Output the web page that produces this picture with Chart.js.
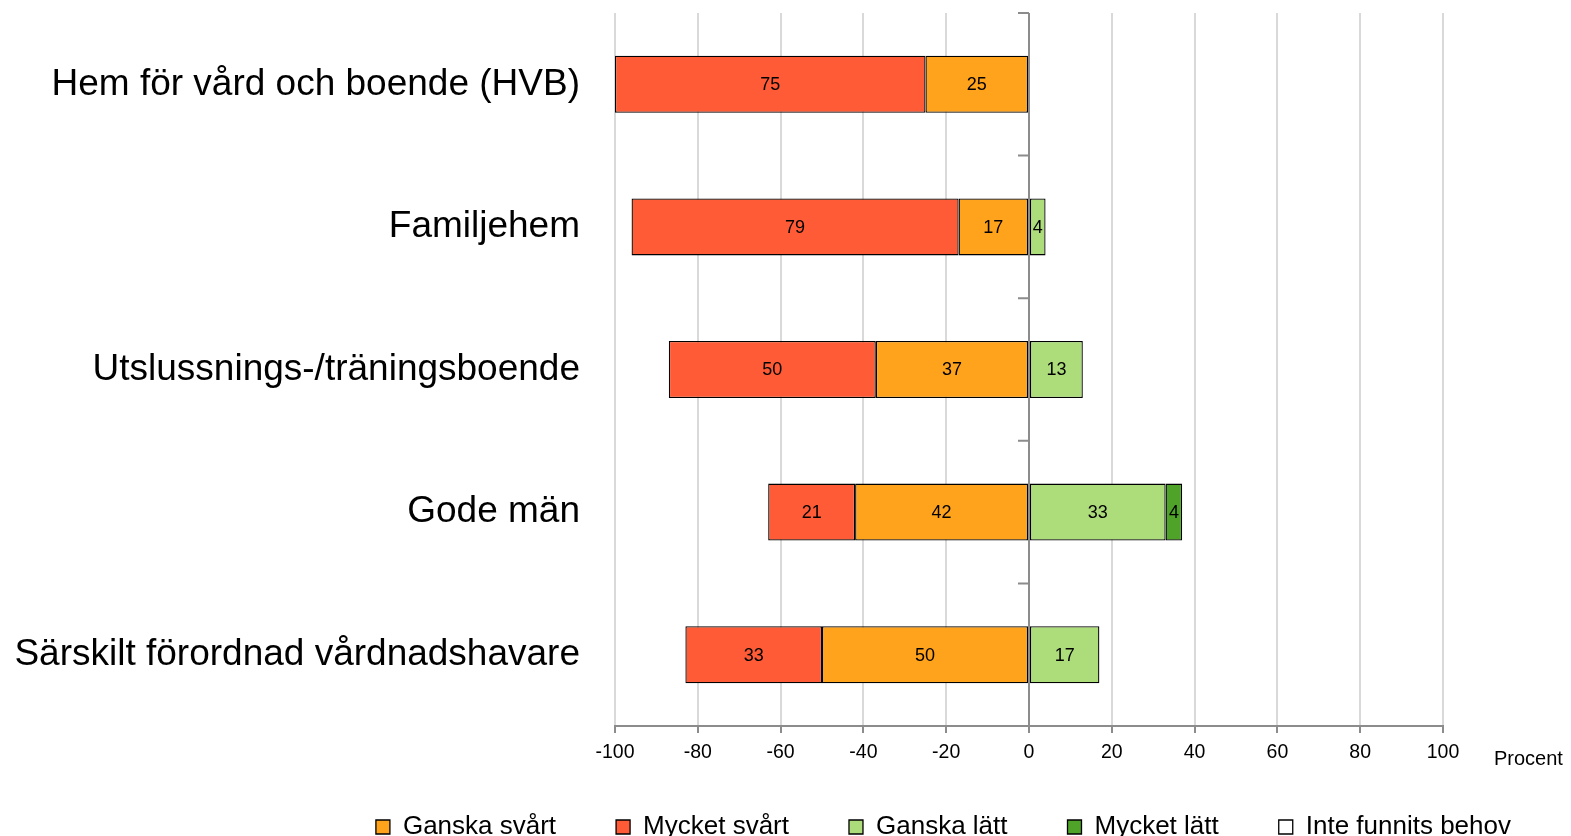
<!DOCTYPE html>
<html lang="sv">
<head>
<meta charset="utf-8">
<title>Svårighet att hitta placering</title>
<script src="https://cdn.jsdelivr.net/npm/chart.js@4.4.1/dist/chart.umd.min.js"></script>
<style>
  html, body { margin: 0; padding: 0; background: #fff; }
  #wrap { width: 1571px; height: 836px; }
</style>
</head>
<body>
<div id="wrap"><canvas id="chart" width="1571" height="836"></canvas></div>
<script>
// kategorier och värden (procent), svårt-serierna ritas åt vänster
const categories = [
  'Hem för vård och boende (HVB)',
  'Familjehem',
  'Utslussnings-/träningsboende',
  'Gode män',
  'Särskilt förordnad vårdnadshavare'
];
const ganskaSvart = [25, 17, 37, 42, 50];
const mycketSvart = [75, 79, 50, 21, 33];
const ganskaLatt = [0, 4, 13, 33, 17];
const mycketLatt = [0, 0, 0, 4, 0];
const inteBehov = [0, 0, 0, 0, 0];
const xTicks = [-100, -80, -60, -40, -20, 0, 20, 40, 60, 80, 100];

const FONT = '"Liberation Sans", Arial, sans-serif';

// noll ritas inte som stapel
const neg = arr => arr.map(v => v ? -v : null);
const pos = arr => arr.map(v => v ? v : null);

const series = [
  { label: 'Ganska svårt', data: neg(ganskaSvart), color: '#FFA21C' },
  { label: 'Mycket svårt', data: neg(mycketSvart), color: '#FF5B36' },
  { label: 'Ganska lätt', data: pos(ganskaLatt), color: '#ADDC7B' },
  { label: 'Mycket lätt', data: pos(mycketLatt), color: '#4FA329' },
  { label: 'Inte funnits behov', data: pos(inteBehov), color: '#FFFFFF' }
];

// nollaxel med streck, värden i staplarna och "Procent"
const extras = {
  id: 'extras',
  afterLayout(chart) {
    // legenden ligger en bit ner, över x-axelns nedre del
    chart.legend.top -= 22;
    chart.legend.bottom -= 22;
  },
  afterDatasetsDraw(chart) {
    const { ctx, chartArea, scales: { x, y } } = chart;
    const x0 = x.getPixelForValue(0);
    ctx.save();
    ctx.strokeStyle = '#8c8c8c';
    ctx.lineWidth = 2;
    ctx.beginPath();
    ctx.moveTo(x0, chartArea.top);
    ctx.lineTo(x0, chartArea.bottom);
    for (let i = 0; i <= categories.length; i++) {
      const py = y.getPixelForValue(i - 0.5);
      ctx.moveTo(x0 - 11, py);
      ctx.lineTo(x0, py);
    }
    ctx.stroke();

    ctx.fillStyle = '#000';
    ctx.font = '18px ' + FONT;
    ctx.textAlign = 'center';
    ctx.textBaseline = 'middle';
    chart.data.datasets.forEach((ds, di) => {
      chart.getDatasetMeta(di).data.forEach((bar, i) => {
        const v = ds.data[i];
        if (!v) return;
        const c = bar.getCenterPoint();
        ctx.fillText(Math.abs(v), c.x, c.y + 1);
      });
    });

    ctx.font = '20px ' + FONT;
    ctx.textAlign = 'left';
    ctx.textBaseline = 'alphabetic';
    ctx.fillText('Procent', chartArea.right + 51, chartArea.bottom + 39);
    ctx.restore();
  }
};

new Chart(document.getElementById('chart'), {
  type: 'bar',
  data: {
    labels: categories,
    datasets: series.map(s => ({
      label: s.label,
      data: s.data,
      backgroundColor: s.color,
      borderColor: '#000',
      borderWidth: 1.3,
      borderSkipped: false,
      barPercentage: 1,
      categoryPercentage: 0.4
    }))
  },
  options: {
    indexAxis: 'y',
    responsive: false,
    animation: false,
    layout: { padding: { top: 13, right: 0, bottom: -36, left: 0 } },
    plugins: {
      legend: {
        position: 'bottom',
        align: 'end',
        labels: {
          color: '#000',
          font: { family: FONT, size: 26 },
          boxWidth: 14,
          boxHeight: 14,
          padding: 60
        }
      },
      tooltip: { enabled: false }
    },
    scales: {
      x: {
        stacked: true,
        min: -100,
        max: 100,
        afterBuildTicks: scale => { scale.ticks = xTicks.map(v => ({ value: v })); },
        afterFit: scale => { scale.height = 50; },
        ticks: { color: '#000', font: { family: FONT, size: 19.5 }, padding: 8, maxRotation: 0 },
        grid: { color: '#d9d9d9', lineWidth: 2, tickColor: '#8c8c8c', tickLength: 7 },
        border: { color: '#8c8c8c', width: 2 }
      },
      y: {
        stacked: true,
        afterFit: scale => {
          scale.width = 615;
          scale.paddingTop = 0;
          scale.paddingBottom = 0;
        },
        ticks: { color: '#000', font: { family: FONT, size: 37 }, padding: 35 },
        grid: { display: false, drawTicks: false },
        border: { display: false }
      },
      // tom axel till höger, ger plats för "Procent"
      yRight: {
        type: 'category',
        position: 'right',
        labels: categories,
        afterFit: scale => {
          scale.width = 128;
          scale.paddingTop = 0;
          scale.paddingBottom = 0;
        },
        ticks: { display: false },
        grid: { display: false, drawTicks: false },
        border: { display: false }
      }
    }
  },
  plugins: [extras]
});
</script>
</body>
</html>
